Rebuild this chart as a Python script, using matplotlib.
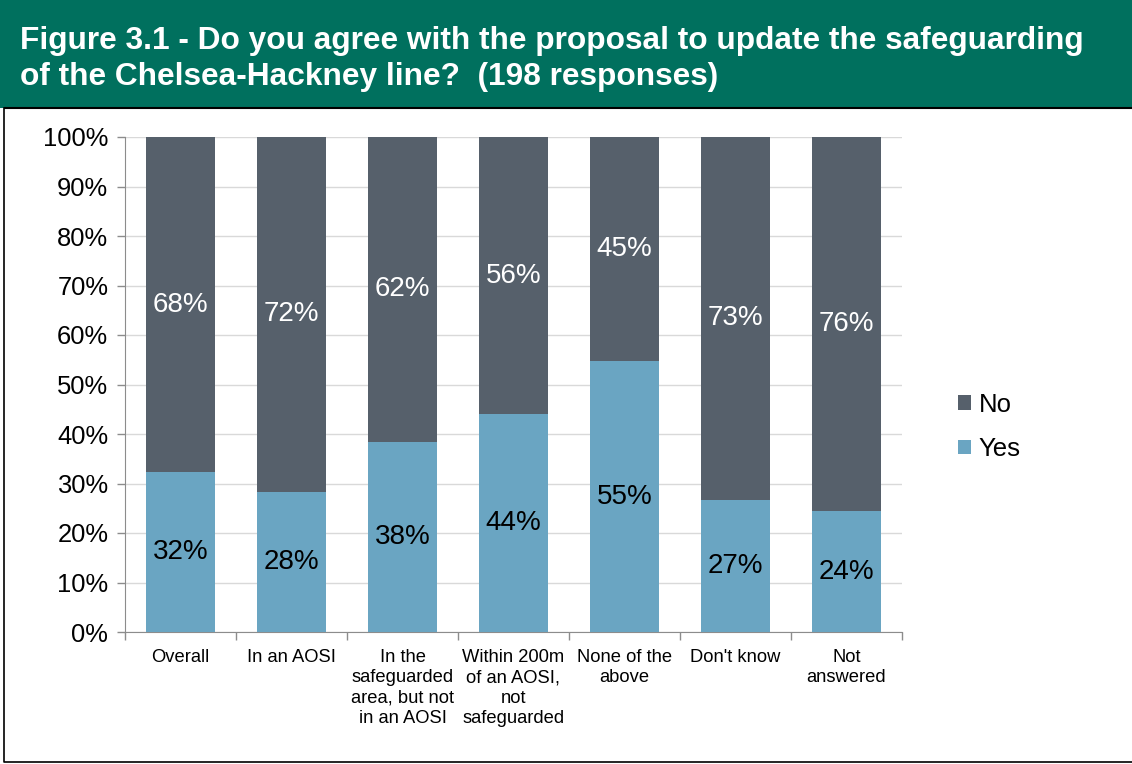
import numpy as np
import matplotlib

matplotlib.use("Agg")
import matplotlib.pyplot as plt
from matplotlib.patches import Rectangle

plt.rcParams["font.family"] = ["Liberation Sans", "DejaVu Sans"]

categories = ["Overall", "In an AOSI", "In the\nsafeguarded\narea, but not\nin an AOSI",
              "Within 200m\nof an AOSI,\nnot\nsafeguarded", "None of the\nabove",
              "Don't know", "Not\nanswered"]
yes_pct = [32.3, 28.3, 38.4, 44.0, 54.7, 26.7, 24.4]
no_pct = [100 - v for v in yes_pct]

YES_C = "#6aa5c2"
NO_C = "#56606b"
GREEN = "#00705e"

fig = plt.figure(figsize=(11.32, 7.64), dpi=100)

# header band + frame (left and bottom edges only)
fig.add_artist(Rectangle((0, 1 - 108 / 764), 1, 108 / 764, transform=fig.transFigure,
                         fc=GREEN, ec="none", zorder=0))
fig.add_artist(plt.Line2D([5 / 1132, 1], [1 - 108 / 764] * 2,
                          transform=fig.transFigure, color="black", lw=1.5))
fig.add_artist(plt.Line2D([4 / 1132, 4 / 1132, 1], [1 - 108 / 764, 2 / 764, 2 / 764],
                          transform=fig.transFigure, color="black", lw=1.2))
fig.text(20 / 1132, 1 - 41 / 764, "Figure 3.1 - Do you agree with the proposal to update the safeguarding",
         color="white", fontsize=22.8, fontweight="bold", va="center", ha="left")
fig.text(20 / 1132, 1 - 77 / 764, "of the Chelsea-Hackney line?  (198 responses)",
         color="white", fontsize=22.8, fontweight="bold", va="center", ha="left")

ax = fig.add_axes([125 / 1132, 1 - 632 / 764, (902 - 125) / 1132, (632 - 137) / 764])
x = np.arange(len(categories))
w = 0.62
ax.bar(x, yes_pct, w, color=YES_C, label="Yes", zorder=3)
ax.bar(x, no_pct, w, bottom=yes_pct, color=NO_C, label="No", zorder=3)

for xi, y, n in zip(x, yes_pct, no_pct):
    ax.text(xi, y / 2, f"{round(y)}%", ha="center", va="center", fontsize=20,
            color="black", zorder=4)
    ax.text(xi, y + n / 2, f"{round(n)}%", ha="center", va="center", fontsize=20,
            color="white", zorder=4)

ax.set_xlim(-0.5, len(categories) - 0.5)
ax.set_ylim(0, 100)
ax.set_yticks(np.arange(0, 101, 10))
ax.set_yticklabels([f"{v}%" for v in range(0, 101, 10)], fontsize=18.4)
ax.yaxis.grid(True, color="#d9d9d9", lw=1, zorder=0)
ax.set_axisbelow(True)

ax.set_xticks(x)
ax.set_xticklabels(categories, fontsize=13.2, linespacing=1.27, va="top")
ax.tick_params(axis="x", length=0, pad=12)
ax.set_xticks(np.arange(-0.5, len(categories), 1), minor=True)
ax.tick_params(axis="x", which="minor", length=6, color="#8c8c8c", width=1)
ax.tick_params(axis="y", length=6, color="#8c8c8c", width=1, pad=6)

for s in ("top", "right"):
    ax.spines[s].set_visible(False)
for s in ("left", "bottom"):
    ax.spines[s].set_color("#8c8c8c")

handles, labels = ax.get_legend_handles_labels()
fig.legend(handles[::-1], labels[::-1], loc="center left",
           bbox_to_anchor=(935 / 1132, 1 - 427 / 764), frameon=False, fontsize=18.5,
           handlelength=0.5, handleheight=0.5, handletextpad=0.3, labelspacing=0.8)

fig.savefig("out.png", dpi=100)
